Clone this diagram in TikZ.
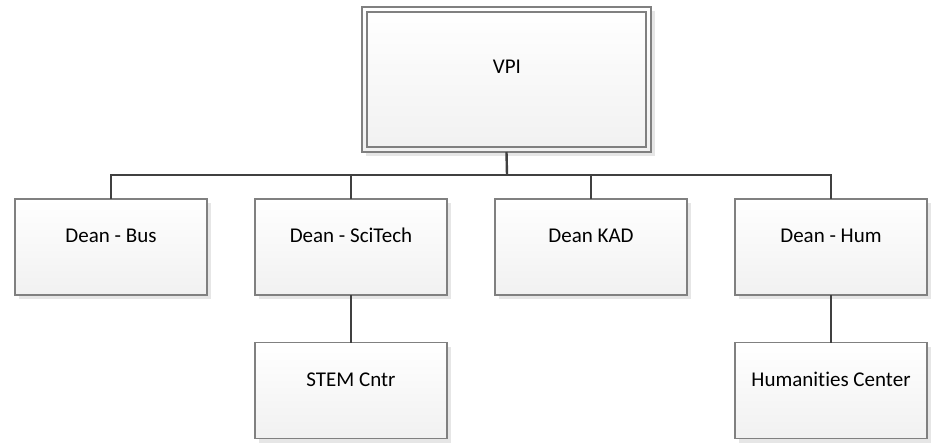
\documentclass[tikz,border=0pt]{standalone}
\usepackage{fontspec}
\setmainfont[Ligatures=NoCommon]{Carlito}
\usetikzlibrary{shadows}
\definecolor{boxline}{HTML}{808080}
\definecolor{conn}{HTML}{404040}
\definecolor{shade}{HTML}{E6E6E6}
\definecolor{fillbot}{HTML}{F1F1F1}
\tikzset{
  orgbox/.style={draw=boxline, line width=1.2pt, top color=white, bottom color=fillbot,
    minimum width=192pt, minimum height=96pt, inner sep=0pt, outer sep=0pt,
    drop shadow={shadow xshift=4pt, shadow yshift=-4pt, fill=shade, opacity=1}},
  orgtext/.style={font=\fontsize{21}{24}\selectfont, anchor=base, inner sep=0pt},
  conn/.style={draw=conn, line width=2.4pt}
}
\begin{document}
\begin{tikzpicture}[x=1pt,y=-1pt]
\useasboundingbox (0,0) rectangle (931,442);
% VPI double box
\node[orgbox, minimum width=289pt, minimum height=145pt] (vpi) at (506.5,79.5) {};
\node[draw=boxline, line width=1.2pt, minimum width=279pt, minimum height=135pt, inner sep=0pt] (vpiin) at (506.5,79.5) {};
\node[orgtext] (vpit) at (507,73) {VPI};
% row 1
\node[orgbox] (bus) at (111,247) {};
\node[orgbox] (sci) at (351,247) {};
\node[orgbox] (kad) at (591,247) {};
\node[orgbox] (hum) at (831,247) {};
\node[orgtext] (bust) at (111,242) {Dean - Bus};
\node[orgtext] (scit) at (351,242) {Dean - SciTech};
\node[orgtext] (kadt) at (591,242) {Dean KAD};
\node[orgtext] (humt) at (831,242) {Dean - Hum};
% row 2
\node[orgbox] (stem) at (351,390.5) {};
\node[orgbox] (humc) at (831,390.5) {};
\node[orgtext] (stemt) at (351,386) {STEM Cntr};
\node[orgtext] (humct) at (831,386) {Humanities Center};
% connectors
\coordinate (busbar) at (507,175);
\draw[conn] (vpi.south) -- (busbar);
\draw[conn] (bus.north) |- (busbar) -| (hum.north);
\draw[conn] (sci.north) -- (sci.north |- busbar);
\draw[conn] (kad.north) -- (kad.north |- busbar);
\draw[conn] (sci.south) -- (stem.north);
\draw[conn] (hum.south) -- (humc.north);
\end{tikzpicture}
\end{document}
